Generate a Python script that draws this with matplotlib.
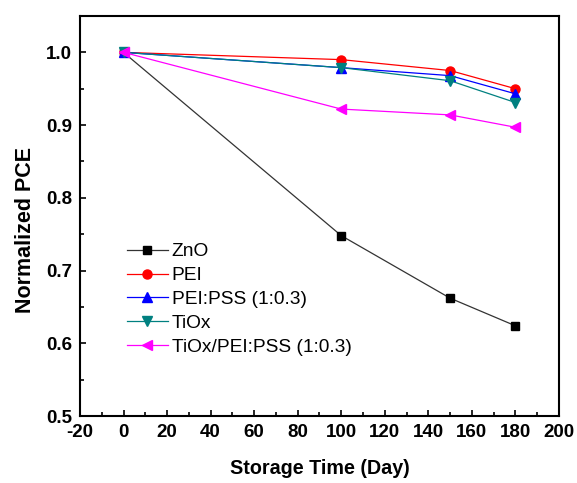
import matplotlib
matplotlib.use("Agg")
import matplotlib.pyplot as plt
from matplotlib.ticker import MultipleLocator

plt.rcParams['font.family'] = ['Liberation Sans', 'DejaVu Sans']
plt.rcParams['axes.unicode_minus'] = False

days = [0, 100, 150, 180]
zno = [1.0, 0.748, 0.662, 0.624]
pei = [1.0, 0.990, 0.975, 0.950]
pei_pss = [1.0, 0.979, 0.968, 0.943]
tiox = [1.0, 0.979, 0.961, 0.931]
tiox_pei_pss = [1.0, 0.922, 0.914, 0.897]

labels = ["ZnO", "PEI", "PEI:PSS (1:0.3)", "TiOx", "TiOx/PEI:PSS (1:0.3)"]
series = [zno, pei, pei_pss, tiox, tiox_pei_pss]
colors = ["black", "#ff0000", "#0000ff", "#008080", "#ff00ff"]
markers = ["s", "o", "^", "v", "<"]
msizes = [6.0, 6.5, 7.0, 7.0, 7.0]

fig = plt.figure(figsize=(5.77, 4.83), dpi=100)
ax = fig.add_axes([0.1386, 0.1387, 0.8302, 0.8282])

for y, lab, c, m, ms in zip(series, labels, colors, markers, msizes):
    lc = "#333333" if c == "black" else c
    ax.plot(days, y, color=lc, lw=0.9, marker=m, markersize=ms,
            markerfacecolor=c, markeredgecolor=c, label=lab)

ax.set_xlim(-20, 200)
ax.set_ylim(0.5, 1.05)
ax.xaxis.set_minor_locator(MultipleLocator(10))
ax.yaxis.set_minor_locator(MultipleLocator(0.05))
ax.set_yticks([0.5, 0.6, 0.7, 0.8, 0.9, 1.0])
ax.set_yticklabels(["0.5", "0.6", "0.7", "0.8", "0.9", "1.0"])
ax.set_xticks(list(range(-20, 201, 20)))

ax.tick_params(which='both', direction='in', top=False, right=False, width=1.2)
ax.tick_params(which='major', length=4.5, labelsize=13.5)
ax.tick_params(axis='y', which='major', pad=5.5)
ax.tick_params(axis='x', which='major', pad=6)
ax.tick_params(which='minor', length=3)
for lbl in ax.get_xticklabels() + ax.get_yticklabels():
    lbl.set_fontweight('bold')
for s in ax.spines.values():
    s.set_linewidth(1.5)

ax.set_xlabel("Storage Time (Day)", fontsize=14.2, fontweight='bold')
ax.set_ylabel("Normalized PCE", fontsize=15.5, fontweight='bold')
ax.xaxis.set_label_coords(0.5, -0.1075)
ax.yaxis.set_label_coords(-0.092, 0.465)

leg = ax.legend(loc='upper left', bbox_to_anchor=(0.0815, 0.452), frameon=False,
                fontsize=13.8, numpoints=1, handlelength=2.14, handletextpad=0.2,
                labelspacing=0.34, borderaxespad=0)

fig.savefig("out.png", dpi=100)
